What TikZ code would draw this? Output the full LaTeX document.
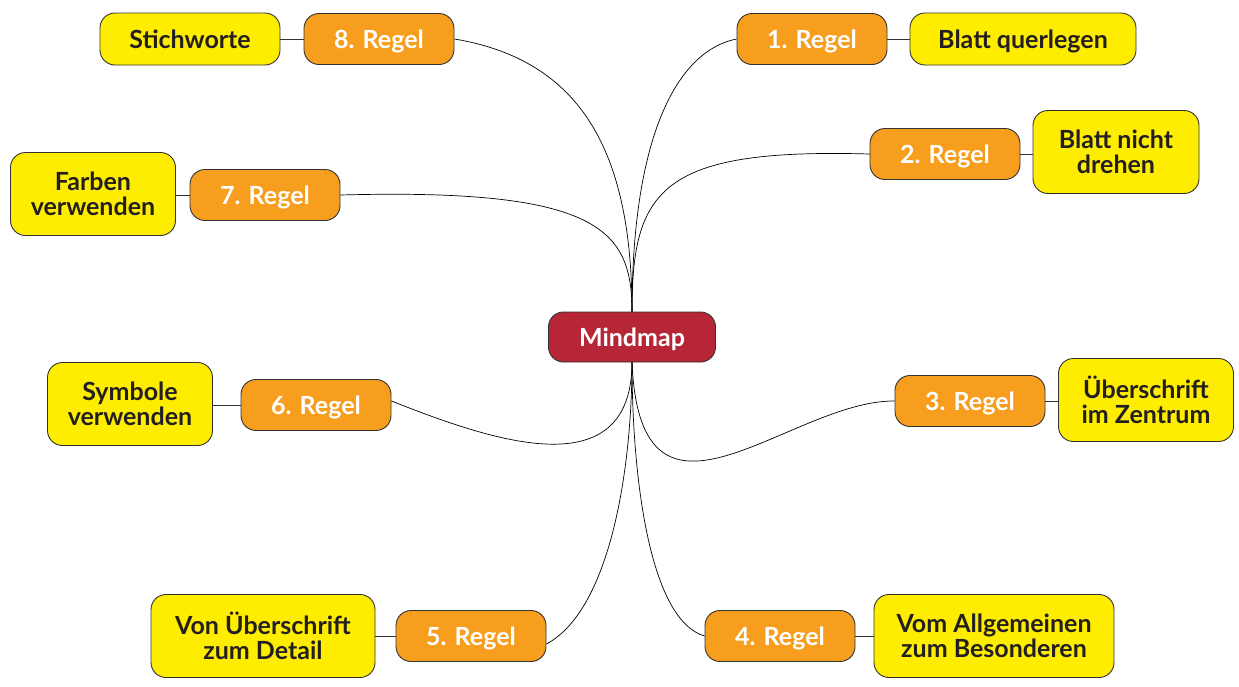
\documentclass[tikz,border=0pt]{standalone}
\usepackage{fontspec}
\setmainfont{Lato}[UprightFont=* Bold]
\definecolor{cred}{HTML}{B62636}
\definecolor{corange}{HTML}{F79E1E}
\definecolor{cyellow}{HTML}{FFED00}
\definecolor{ctext}{HTML}{231F20}
\definecolor{cline}{HTML}{333333}
\tikzset{
  basebox/.style={draw=cline, line width=0.9pt, rounded corners=15pt, align=center, inner sep=0pt,
    font=\fontsize{25}{25}\selectfont},
  rootbox/.style={basebox, fill=cred, text=white, minimum width=167pt, minimum height=50pt, text depth=0pt},
  rulebox/.style={basebox, fill=corange, text=white, minimum width=150pt, minimum height=51pt, text depth=0pt},
  leafbox/.style={basebox, fill=cyellow, text=ctext, minimum height=52pt, text depth=0pt},
  leaftwo/.style={basebox, fill=cyellow, text=ctext, minimum height=83pt},
  conn/.style={draw=black, line width=0.7pt},
  shortconn/.style={draw=cline, line width=1pt}
}
\begin{document}
\begin{tikzpicture}[x=1pt,y=-1pt]
\useasboundingbox (0,0) rectangle (1239,686);
\coordinate (ct) at (632,312);
\coordinate (cb) at (632,362);
\node[rulebox] (r8) at (379,39) {8. Regel};
\node[rulebox] (r1) at (812,39) {1. Regel};
\node[rulebox] (r2) at (945,154) {2. Regel};
\node[rulebox] (r7) at (265,195) {7. Regel};
\node[rulebox] (r6) at (316,405) {6. Regel};
\node[rulebox] (r3) at (970,401) {3. Regel};
\node[rulebox] (r5) at (471,636) {5. Regel};
\node[rulebox] (r4) at (780,636) {4. Regel};
\node[leafbox, minimum width=180pt] (l8) at (190,39) {Stichworte};
\node[leafbox, minimum width=226pt] (l1) at (1023,39) {Blatt querlegen};
\node[leaftwo, minimum width=166pt] (l2) at (1116,152) {Blatt nicht\\drehen};
\node[leaftwo, minimum width=165pt] (l7) at (93,194) {Farben\\verwenden};
\node[leaftwo, minimum width=165pt] (l6) at (130,404) {Symbole\\verwenden};
\node[leaftwo, minimum width=175pt] (l3) at (1146,400) {Überschrift\\im Zentrum};
\node[leaftwo, minimum width=224pt] (l5) at (263,636) {Von Überschrift\\zum Detail};
\node[leaftwo, minimum width=240pt] (l4) at (994,636) {Vom Allgemeinen\\zum Besonderen};
\draw[conn] (ct) .. controls (632,150) and (580,60) .. (r8.east);
\draw[conn] (ct) .. controls (632,130) and (680,50) .. (r1.west);
\draw[conn] (ct) .. controls (632,190) and (660,148) .. (r2.west);
\draw[conn] (ct) .. controls (632,230) and (600,188) .. (r7.east);
\draw[conn] (cb) .. controls (632,490) and (490,440) .. ([yshift=4pt]r6.east);
\draw[conn] (cb) .. controls (640,560) and (790,400) .. (r3.west);
\draw[conn] (cb) .. controls (632,470) and (610,610) .. ([yshift=-8pt]r5.east);
\draw[conn] (cb) .. controls (632,480) and (650,620) .. (r4.west);
\node[rootbox] (m) at (632,337) {Mindmap};
\draw[shortconn] (l8) -- (r8);
\draw[shortconn] (r1) -- (l1);
\draw[shortconn] (r2) -- (l2.west |- r2);
\draw[shortconn] (l7.east |- r7) -- (r7);
\draw[shortconn] (l6.east |- r6) -- (r6);
\draw[shortconn] (r3) -- (l3.west |- r3);
\draw[shortconn] (l5) -- (r5);
\draw[shortconn] (r4) -- (l4);
\end{tikzpicture}
\end{document}
